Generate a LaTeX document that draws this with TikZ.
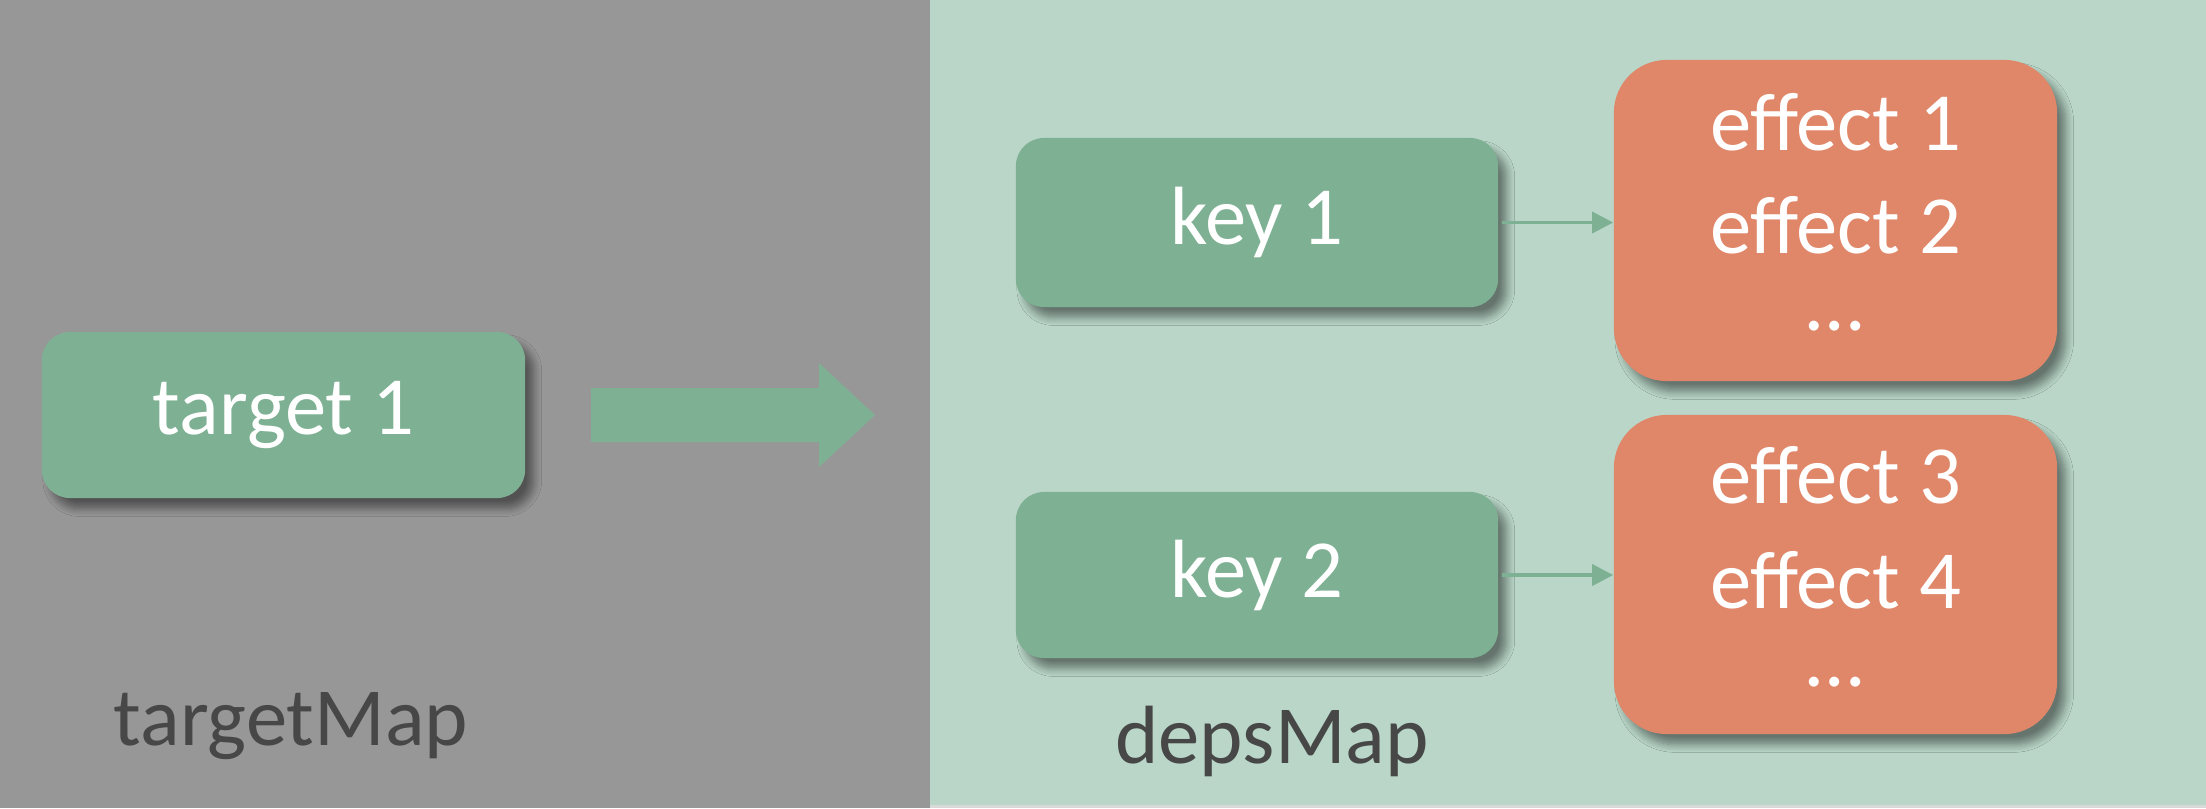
\documentclass[tikz,border=0pt]{standalone}
\usepackage{fontspec}
\setmainfont{Carlito}
\usetikzlibrary{shadows.blur,arrows.meta}
\definecolor{greybg}{HTML}{979797}
\definecolor{panelgreen}{HTML}{B9D6C8}
\definecolor{boxgreen}{HTML}{7EB093}
\definecolor{boxorange}{HTML}{E0876A}
\definecolor{labelgrey}{HTML}{474747}
\tikzset{
  softshadow/.style={blur shadow={shadow xshift=2.5pt, shadow yshift=-3pt, shadow blur radius=2.2pt, shadow opacity=45, shadow blur steps=8}},
  greenbox/.style={draw=none, fill=boxgreen, rounded corners=8pt, softshadow,
    text=white, font=\fontsize{23.5}{28}\selectfont, inner sep=0pt},
  orangebox/.style={draw=none, fill=boxorange, rounded corners=15pt, softshadow, inner sep=0pt},
  efftext/.style={text=white, font=\fontsize{23.5}{28}\selectfont, inner sep=0pt},
  maplabel/.style={text=labelgrey, font=\fontsize{23.5}{28}\selectfont, inner sep=0pt},
  link/.style={draw=boxgreen, line width=1pt, -{Triangle[length=6pt,width=6pt]}},
}
\begin{document}
\begin{tikzpicture}[x=0.01cm, y=-0.01cm]
\useasboundingbox (0,0) rectangle (2206,808);
% panels
\fill[greybg] (0,0) rectangle (930,808);
\fill[panelgreen] (930,0) rectangle (2206,805);
\fill[black!15] (930,805) rectangle (2206,808);
% big arrow
\fill[boxgreen] (591,388) -- (819,388) -- (819,363) -- (875,415) -- (819,467) -- (819,442) -- (591,442) -- cycle;
% boxes
\node[greenbox, minimum width=4.83cm, minimum height=1.66cm] (t1) at (283.5,415) {target 1};
\node[greenbox, minimum width=4.82cm, minimum height=1.69cm] (k1) at (1257,222.5) {key 1};
\node[greenbox, minimum width=4.82cm, minimum height=1.66cm] (k2) at (1257,575) {key 2};
\node[orangebox, minimum width=4.43cm, minimum height=3.21cm] (e1) at (1835.5,220.5) {};
\node[orangebox, minimum width=4.43cm, minimum height=3.19cm] (e2) at (1835.5,574.5) {};
% effect texts
\node[efftext] (e1a) at (1835.5,122) {effect 1};
\node[efftext] (e1b) at (1835.5,225) {effect 2};
\node[efftext] (e1c) at (1835.5,326) {…};
\node[efftext] (e2a) at (1835.5,475) {effect 3};
\node[efftext] (e2b) at (1835.5,580) {effect 4};
\node[efftext] (e2c) at (1835.5,682) {…};
% links
\draw[link] (k1.east) ++(1pt,0) -- (e1.west |- k1.east);
\draw[link] (k2.east) ++(1pt,0) -- (e2.west |- k2.east);
% labels
\node[maplabel] (tm) at (291,726) {targetMap};
\node[maplabel] (dm) at (1272,741) {depsMap};
\end{tikzpicture}
\end{document}
